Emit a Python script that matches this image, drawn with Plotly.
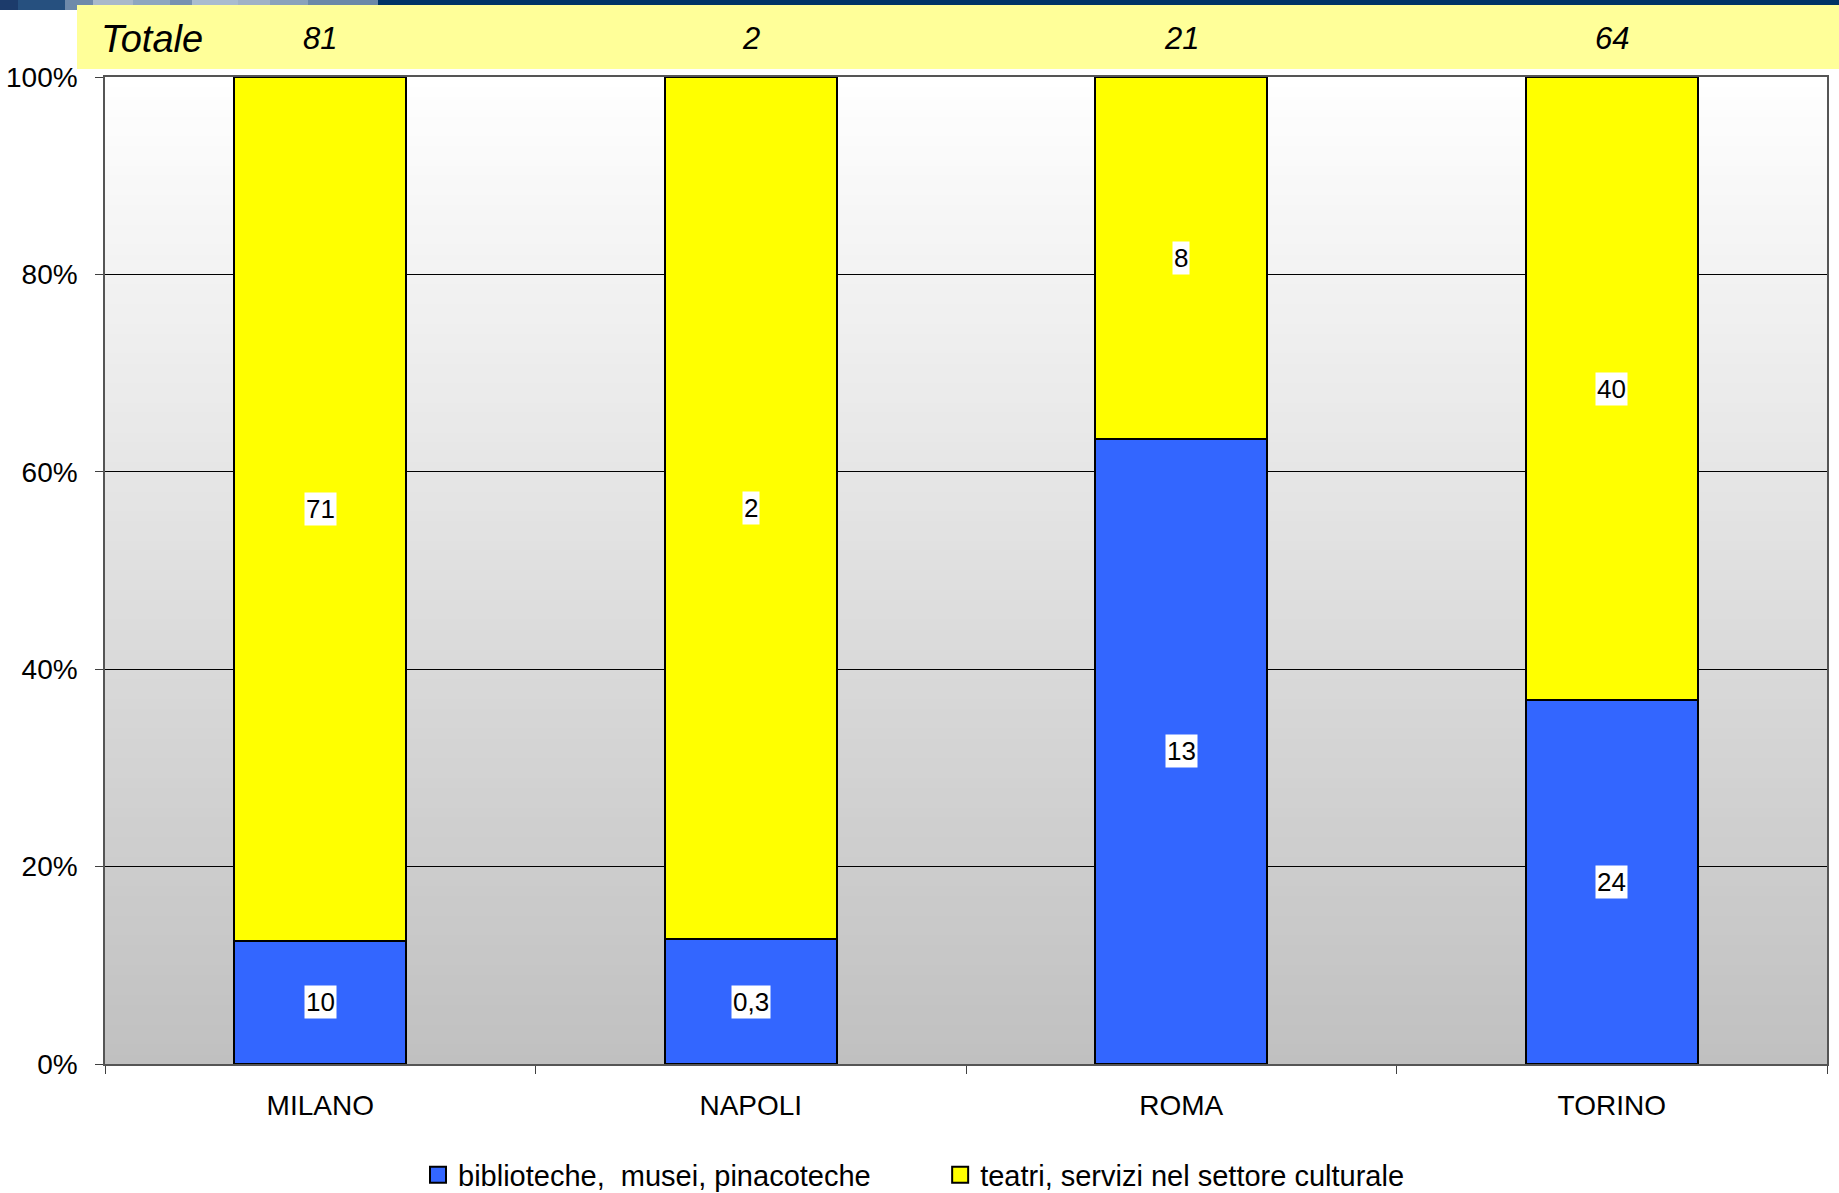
import plotly.graph_objects as go

# ---- data ----
cities = ["MILANO", "NAPOLI", "ROMA", "TORINO"]
biblioteche = [10.1, 0.29, 13.3, 23.6]
teatri = [70.9, 2.0, 7.7, 40.4]
biblioteche_labels = ["10", "0,3", "13", "24"]
teatri_labels = ["71", "2", "8", "40"]
totals = ["81", "2", "21", "64"]
series_names = ["biblioteche,\u00a0\u00a0musei, pinacoteche", "teatri, servizi nel settore culturale"]
y_ticks = [0, 20, 40, 60, 80, 100]
y_ticktext = [f"{v}%" for v in y_ticks]

BLUE = "#3366FF"
YELLOW = "#FFFF00"
FONT = "Liberation Sans, Arial, sans-serif"

fig = go.Figure()
fig.add_trace(go.Bar(x=cities, y=biblioteche, name=series_names[0], showlegend=False,
                     marker=dict(color=BLUE, line=dict(color="black", width=2))))
fig.add_trace(go.Bar(x=cities, y=teatri, name=series_names[1], showlegend=False,
                     marker=dict(color=YELLOW, line=dict(color="black", width=2))))
# legend-only entries (larger square keys)
for nm, col in [(series_names[0] + "\u00a0" * 8, BLUE), (series_names[1], YELLOW)]:
    fig.add_trace(go.Scatter(x=[None], y=[None], mode="markers", name=nm, showlegend=True,
                             marker=dict(symbol="square", size=17, color=col,
                                         line=dict(color="black", width=2))))

shapes = []
# background gradient inside plot area (white -> #C0C0C0), overlapping bands to avoid seams
N = 100
for i in range(N):
    t = (i + 0.5) / N  # 0 bottom .. 1 top
    v = int(round(192 + (255 - 192) * t))
    shapes.append(dict(type="rect", xref="x domain", yref="y domain",
                       x0=0, x1=1, y0=i / N, y1=min(1.0, (i + 2) / N),
                       fillcolor=f"rgb({v},{v},{v})", line=dict(width=0), layer="below"))

H = 987
def py(px):  # pixel y from top of figure -> paper y
    return 1 + (77 - px) / H
def pxx(px):
    return (px - 105) / 1722

strip_tiles = [(0, 18, "#1c3b6b"), (18, 65, "#26507f"), (65, 93, "#6f8aaa"), (93, 133, "#a9b9ca"),
               (133, 170, "#8ea6bf"), (170, 192, "#7791b0"), (192, 238, "#a9bccf"), (238, 270, "#a0b2c6"),
               (270, 308, "#8aa2bb"), (308, 378, "#6b88a8"), (378, 1839, "#003366")]
for a, b, c in strip_tiles:
    shapes.append(dict(type="rect", xref="paper", yref="paper", x0=pxx(a), x1=pxx(b),
                       y0=py(10), y1=py(0), fillcolor=c, line=dict(width=0), layer="above"))
shapes.append(dict(type="rect", xref="paper", yref="paper", x0=pxx(77), x1=pxx(1839),
                   y0=py(69), y1=py(5), fillcolor="#FFFF99", line=dict(width=0), layer="above"))

annotations = []
annotations.append(dict(text="<i>Totale</i>", xref="paper", yref="paper", x=pxx(99), y=py(39),
                        xanchor="left", yanchor="middle", showarrow=False,
                        font=dict(family=FONT, size=38, color="black")))
for c, t in zip(cities, totals):
    annotations.append(dict(text=f"<i>{t}</i>", x=c, xref="x", yref="paper", y=py(39),
                            xanchor="center", yanchor="middle", showarrow=False,
                            font=dict(family=FONT, size=31, color="black")))

for c, b, t, bl, tl in zip(cities, biblioteche, teatri, biblioteche_labels, teatri_labels):
    tot = b + t
    pb = b / tot * 100
    pt = t / tot * 100
    for yv, lab in [(pb / 2, bl), (pb + pt / 2, tl)]:
        annotations.append(dict(text=lab, x=c, y=yv, xref="x", yref="y", showarrow=False,
                                bgcolor="white", borderpad=1,
                                font=dict(family=FONT, size=26, color="black")))

fig.update_layout(
    width=1839, height=1193,
    barmode="stack", barnorm="percent", bargap=0.6,
    paper_bgcolor="white", plot_bgcolor="white",
    margin=dict(l=105, r=12, t=77, b=129, autoexpand=False),
    font=dict(family=FONT, size=28, color="black"),
    shapes=shapes, annotations=annotations,
    legend=dict(orientation="h", x=pxx(418), xanchor="left", y=py(1175), yanchor="middle",
                font=dict(family=FONT, size=29, color="black"), traceorder="normal",
                itemwidth=30, bgcolor="rgba(0,0,0,0)"),
    showlegend=True,
)
fig.update_xaxes(type="category", tickson="boundaries", ticks="outside", ticklen=8,
                 tickcolor="#404040", showline=True, linecolor="#555555", linewidth=1.5,
                 mirror=True, showgrid=False, ticklabelstandoff=16,
                 tickfont=dict(family=FONT, size=28, color="black"))
fig.update_yaxes(range=[0, 100], tickvals=y_ticks, ticktext=y_ticktext, ticks="outside", ticklen=8,
                 tickcolor="#404040", showline=True, linecolor="#555555", linewidth=1.5,
                 mirror=True, showgrid=True, gridcolor="black", gridwidth=1,
                 zeroline=False, ticklabelstandoff=12,
                 tickfont=dict(family=FONT, size=28, color="black"))

fig.write_html("out.html", config={"displayModeBar": False},
               post_script="document.body.style.margin='0';document.body.style.overflow='hidden';")
